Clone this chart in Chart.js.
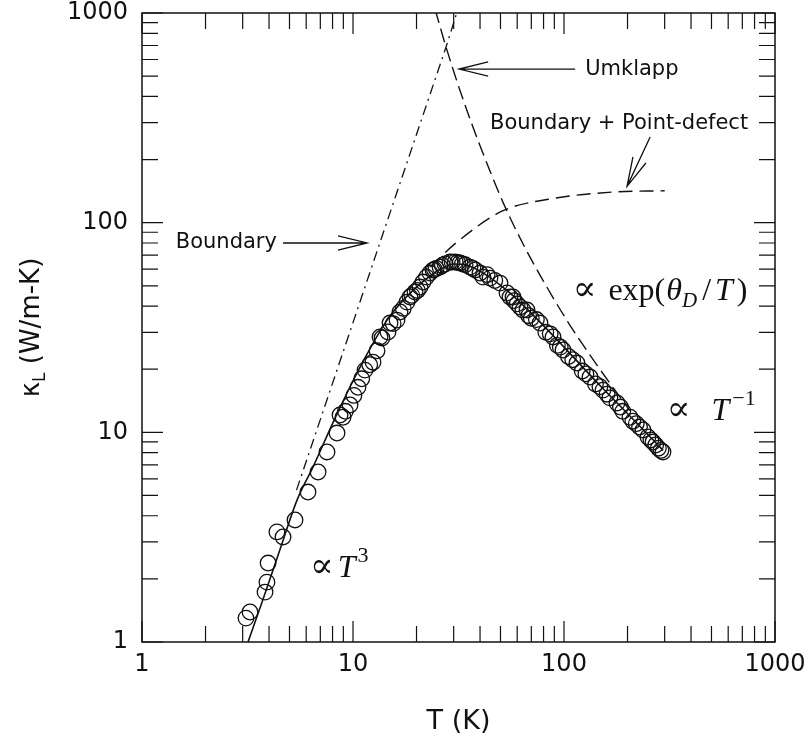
<!DOCTYPE html>
<html lang="en">
<head>
<meta charset="UTF-8" />
<title>Lattice thermal conductivity</title>
<script src="https://cdn.jsdelivr.net/npm/chart.js"></script>
<style>
  html, body { margin: 0; padding: 0; background: #fff; }
  #wrap { width: 809px; height: 740px; }
</style>
</head>
<body>
<div id="wrap"><canvas id="kappaChart"></canvas></div>
<script>
// measured points, T in K and kappa_L in W/m-K
const dataT = [3.11, 3.25, 3.83, 3.91, 3.96, 4.36, 4.66, 5.31, 6.12, 6.83,
  7.53, 8.40, 8.68, 8.97, 9.2, 9.68, 10.1, 10.56, 11.0, 11.4,
  12.0, 12.44, 13.0, 13.43, 13.72, 14.65, 14.98, 15.5, 16.16, 16.7,
  17.3, 18.03, 18.63, 19.0, 19.67, 20.2, 20.78, 21.47, 22.3, 23.17,
  23.94, 24.3, 24.8, 25.85, 26.5, 27.3, 28.83, 29.5, 30.5, 31.3,
  32.15, 33.0, 34.0, 35.85, 37.0, 38.0, 39.99, 41.3, 43.2, 44.6,
  47.0, 49.74, 53.7, 55.47, 57.32, 58.0, 60.0, 61.87, 63.9, 66.78,
  68.0, 70.0, 74.0, 76.96, 82.0, 86.0, 88.71, 93.0, 96.0, 98.92,
  105, 110, 115.2, 122, 127, 132.8, 141, 148, 153, 160,
  165, 178.3, 185, 190, 205.5, 212, 220, 228, 236.8, 250,
  258, 264.1, 272, 280, 288, 294.5];
const dataK = [1.30, 1.39, 1.73, 1.93, 2.38, 3.35, 3.17, 3.82, 5.19, 6.47,
  8.06, 9.92, 12.1, 11.8, 12.6, 13.5, 15.0, 16.4, 18.0, 19.8,
  21.0, 21.6, 24.5, 28.5, 28.2, 30.1, 33.2, 33.0, 34.3, 37.5,
  39.0, 41.8, 44.2, 45.0, 46.7, 47.5, 49.3, 52.1, 55.0, 57.5,
  59.4, 59.8, 60.5, 61.4, 62.5, 63.5, 64.9, 64.8, 65.0, 64.6,
  64.2, 63.6, 63.0, 61.4, 60.5, 59.5, 57.5, 55.0, 56.5, 54.4,
  53.0, 51.5, 46.2, 44.2, 44.2, 42.5, 41.0, 39.6, 38.3, 38.3,
  36.0, 35.0, 34.5, 33.2, 30.0, 29.5, 28.5, 26.0, 25.5, 24.7,
  23.0, 22.2, 21.4, 19.6, 19.0, 18.35, 17.0, 16.5, 15.9, 15.2,
  14.6, 13.8, 13.2, 12.6, 11.8, 11.3, 11.0, 10.6, 10.26, 9.5,
  9.2, 8.99, 8.7, 8.4, 8.2, 8.06];

// solid fit through the data
const fitT = [3.18, 3.74, 4.5, 5.43, 6.46, 8.0, 9.37, 11.5, 14.49, 18, 22, 26, 30, 35, 42, 55, 75, 100, 150, 200, 295];
const fitK = [1.0, 1.59, 2.75, 4.75, 6.83, 11.0, 15.4, 23.0, 34.3, 44.5, 53.5, 60.0, 63.5, 62.5, 57.0, 46.5, 34.5, 25.5, 16.5, 12.3, 8.2];

// limiting curves
const boundaryT = [5.4, 13.4, 27.6, 31.5];
const boundaryK = [5.3, 80, 688, 1050];
const umklappT = [24.5, 27.6, 33, 40, 51.4, 65.3, 80, 103, 143, 205];
const umklappK = [1040, 688, 395, 233, 125, 76, 52.5, 34.3, 21, 12.7];
const pointDefT = [23.2, 31.1, 51.4, 83, 171, 300];
const pointDefK = [61.4, 80.8, 114, 129, 140, 142];

const decadeLabels = [1, 10, 100, 1000];

const toXY = (xs, ys) => xs.map((x, i) => ({ x: x, y: ys[i] }));
const INK = '#111';
const SANS = '"DejaVu Sans", sans-serif';
const SERIF = '"Liberation Serif", "DejaVu Serif", serif';

function arrow(ctx, x1, y1, x2, y2) {
  const a = Math.atan2(y2 - y1, x2 - x1);
  const len = 30, spread = 0.24;
  ctx.beginPath();
  ctx.moveTo(x1, y1);
  ctx.lineTo(x2, y2);
  ctx.moveTo(x2 - len * Math.cos(a - spread), y2 - len * Math.sin(a - spread));
  ctx.lineTo(x2, y2);
  ctx.lineTo(x2 - len * Math.cos(a + spread), y2 - len * Math.sin(a + spread));
  ctx.stroke();
}

// draws pieces of text one after the other (for sub/superscripts)
function drawRuns(ctx, x, y, runs) {
  ctx.textAlign = 'left';
  ctx.textBaseline = 'alphabetic';
  runs.forEach(r => {
    x += r.gap || 0;
    ctx.font = r.font;
    ctx.fillText(r.t, x, y + (r.dy || 0));
    x += ctx.measureText(r.t).width;
  });
}

const framePlugin = {
  id: 'frame',
  afterDatasetsDraw(chart) {
    const ctx = chart.ctx;
    const area = chart.chartArea;
    const sx = chart.scales.x, sy = chart.scales.y;
    const px = v => sx.getPixelForValue(v);
    const py = v => sy.getPixelForValue(v);
    ctx.save();
    ctx.strokeStyle = INK;
    ctx.fillStyle = INK;

    // box
    ctx.lineWidth = 1.5;
    ctx.strokeRect(area.left, area.top, area.right - area.left, area.bottom - area.top);

    // inward log ticks on all four sides
    ctx.lineWidth = 1.2;
    ctx.beginPath();
    [1, 10, 100].forEach(d => {
      for (let m = 1; m <= 10; m++) {
        const v = d * m;
        const len = (m === 1 || m === 10) ? 21 : 16;
        const xp = px(v), yp = py(v);
        ctx.moveTo(xp, area.bottom); ctx.lineTo(xp, area.bottom - len);
        ctx.moveTo(xp, area.top); ctx.lineTo(xp, area.top + len);
        ctx.moveTo(area.left, yp); ctx.lineTo(area.left + len, yp);
        ctx.moveTo(area.right, yp); ctx.lineTo(area.right - len, yp);
      }
    });
    ctx.stroke();

    // arrows and labels
    ctx.lineWidth = 1.3;
    ctx.font = '21px ' + SANS;
    ctx.textBaseline = 'middle';

    ctx.textAlign = 'left';
    ctx.fillText('Umklapp', px(126), py(540));
    arrow(ctx, px(113), py(540), px(31.8), py(540));

    ctx.fillText('Boundary + Point-defect', px(44.6), py(298));
    arrow(ctx, px(256), py(256), px(199), py(149));

    ctx.textAlign = 'right';
    ctx.fillText('Boundary', px(4.36), py(80));
    arrow(ctx, px(4.66), py(80), px(11.67), py(80));

    // power-law notes
    const rom = '32px ' + SERIF, ita = 'italic 32px ' + SERIF;
    const prop = '35px "DejaVu Serif", serif';
    drawRuns(ctx, px(110), py(42.7), [
      { t: '\u221D', font: prop },
      { t: 'exp(', font: rom, gap: 12 },
      { t: '\u03B8', font: ita, gap: 1 },
      { t: 'D', font: 'italic 21px ' + SERIF, dy: 7 },
      { t: '/', font: rom, gap: 5 },
      { t: 'T', font: ita, gap: 4 },
      { t: ')', font: rom, gap: 4 }
    ]);
    drawRuns(ctx, px(307), py(11.4), [
      { t: '\u221D', font: prop },
      { t: 'T', font: ita, gap: 21 },
      { t: '\u22121', font: '22px ' + SERIF, dy: -15, gap: 3 }
    ]);
    drawRuns(ctx, px(6.26), py(2.04), [
      { t: '\u221D', font: prop },
      { t: 'T', font: ita, gap: 4 },
      { t: '3', font: '22px ' + SERIF, dy: -15, gap: 2 }
    ]);

    // axis titles
    ctx.font = '27px ' + SANS;
    ctx.textAlign = 'center';
    ctx.textBaseline = 'middle';
    ctx.fillText('T (K)', (area.left + area.right) / 2, 722);

    ctx.translate(30, (area.top + area.bottom) / 2);
    ctx.rotate(-Math.PI / 2);
    const big = '26px ' + SANS, small = '17px ' + SANS;
    ctx.font = big;
    const w1 = ctx.measureText('\u03BA').width;
    const w3 = ctx.measureText(' (W/m-K)').width;
    ctx.font = small;
    const w2 = ctx.measureText('L').width;
    drawRuns(ctx, -(w1 + w2 + w3) / 2, 9, [
      { t: '\u03BA', font: big },
      { t: 'L', font: small, dy: 6 },
      { t: ' (W/m-K)', font: big }
    ]);
    ctx.restore();
  }
};

const tickLabel = v => {
  const l = Math.log10(v);
  return Math.abs(l - Math.round(l)) < 1e-6 && decadeLabels.includes(Math.round(v)) ? String(Math.round(v)) : '';
};

new Chart(document.getElementById('kappaChart'), {
  type: 'scatter',
  data: {
    datasets: [
      {
        label: 'Boundary',
        data: toXY(boundaryT, boundaryK),
        showLine: true,
        borderColor: INK,
        borderWidth: 1.3,
        borderDash: [10, 5, 2, 5],
        pointRadius: 0,
        tension: 0
      },
      {
        label: 'Umklapp',
        data: toXY(umklappT, umklappK),
        showLine: true,
        borderColor: INK,
        borderWidth: 1.4,
        borderDash: [14, 6],
        pointRadius: 0,
        cubicInterpolationMode: 'monotone'
      },
      {
        label: 'Boundary + Point-defect',
        data: toXY(pointDefT, pointDefK),
        showLine: true,
        borderColor: INK,
        borderWidth: 1.4,
        borderDash: [14, 7],
        pointRadius: 0,
        cubicInterpolationMode: 'monotone'
      },
      {
        label: 'Fit',
        data: toXY(fitT, fitK),
        showLine: true,
        borderColor: INK,
        borderWidth: 1.6,
        pointRadius: 0,
        cubicInterpolationMode: 'monotone'
      },
      {
        label: 'Measured',
        data: toXY(dataT, dataK),
        showLine: false,
        pointStyle: 'circle',
        pointRadius: 7.8,
        pointBorderWidth: 1.3,
        pointBorderColor: INK,
        pointBackgroundColor: 'rgba(255,255,255,0)'
      }
    ]
  },
  options: {
    responsive: true,
    maintainAspectRatio: false,
    animation: false,
    layout: { autoPadding: false, padding: { top: 13, right: 34, left: 0, bottom: 0 } },
    plugins: {
      legend: { display: false },
      tooltip: { enabled: false }
    },
    scales: {
      x: {
        type: 'logarithmic',
        min: 1,
        max: 1000,
        grid: { display: false, drawTicks: false },
        border: { display: false },
        ticks: {
          autoSkip: false,
          maxRotation: 0,
          padding: 11,
          color: INK,
          font: { family: SANS, size: 24, lineHeight: 1 },
          callback: tickLabel
        },
        afterFit: s => {
          s.height = 98;
          s.paddingLeft = 0;
          s.paddingRight = 0;
        }
      },
      y: {
        type: 'logarithmic',
        min: 1,
        max: 1000,
        grid: { display: false, drawTicks: false },
        border: { display: false },
        ticks: {
          autoSkip: false,
          padding: 14,
          color: INK,
          font: { family: SANS, size: 24, lineHeight: 1 },
          callback: tickLabel
        },
        afterFit: s => {
          s.width = 142;
          s.paddingTop = 0;
          s.paddingBottom = 0;
        }
      }
    }
  },
  plugins: [framePlugin]
});
</script>
</body>
</html>
